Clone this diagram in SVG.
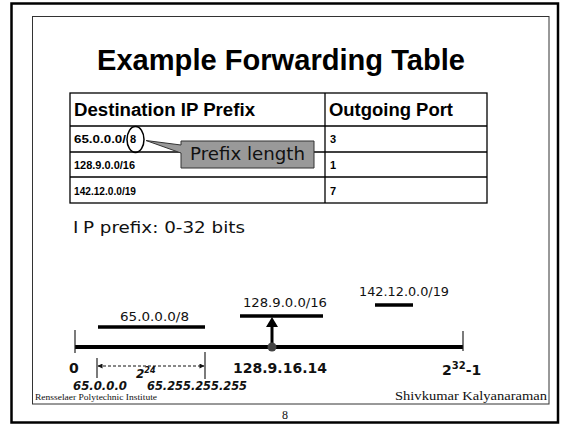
<svg xmlns="http://www.w3.org/2000/svg" width="570" height="424" viewBox="0 0 570 424">
<style>
.arial{font-family:"Liberation Sans",Arial,sans-serif}
.sans{font-family:"DejaVu Sans",Verdana,sans-serif}
.times{font-family:"Liberation Serif","Times New Roman",serif}
.cell{font-family:"Liberation Sans",Arial,sans-serif;font-weight:bold;font-size:11px;fill:#000}
.hdr{font-family:"Liberation Sans",Arial,sans-serif;font-weight:bold;font-size:18px;fill:#000}
.tl{stroke:#000;stroke-width:1.3;fill:none}
.bar{stroke:#000;stroke-width:3.5}
.tick{stroke:#222;stroke-width:1.2}
.lbl{font-family:"DejaVu Sans",Verdana,sans-serif;font-size:12px;fill:#111}
.big{font-family:"DejaVu Sans",Verdana,sans-serif;font-size:14px;font-weight:bold;fill:#111}
.ital{font-family:"DejaVu Sans",Verdana,sans-serif;font-size:12px;font-weight:bold;font-style:italic;fill:#111}
</style>
<defs>
<marker id="ah" viewBox="0 0 10 10" refX="9" refY="5" markerWidth="7" markerHeight="5" orient="auto-start-reverse" markerUnits="userSpaceOnUse">
<path d="M0,0 L10,5 L0,10 Z" fill="#111"/>
</marker>
</defs>
<rect width="570" height="424" fill="#fff"/>
<rect x="11.5" y="3.5" width="546.5" height="419" fill="none" stroke="#000" stroke-width="2.5"/>
<rect x="32.5" y="16.5" width="516.5" height="387.5" fill="none" stroke="#333" stroke-width="1"/>
<text class="arial" x="281" y="70" font-size="29" font-weight="bold" text-anchor="middle" textLength="368" lengthAdjust="spacingAndGlyphs">Example Forwarding Table</text>

<g id="table">
<rect class="tl" x="70" y="93" width="417" height="110"/>
<line class="tl" x1="325" y1="93" x2="325" y2="203"/>
<line class="tl" x1="70" y1="126" x2="487" y2="126"/>
<line class="tl" x1="70" y1="152" x2="487" y2="152"/>
<line class="tl" x1="70" y1="177" x2="487" y2="177"/>
<text class="hdr" x="74" y="116" textLength="181" lengthAdjust="spacingAndGlyphs">Destination IP Prefix</text>
<text class="hdr" x="329" y="116" textLength="124" lengthAdjust="spacingAndGlyphs">Outgoing Port</text>
<text class="cell" x="74" y="143" textLength="52" lengthAdjust="spacingAndGlyphs">65.0.0.0/</text>
<text class="cell" x="130" y="143">8</text>
<text class="cell" x="74" y="169" textLength="61" lengthAdjust="spacingAndGlyphs">128.9.0.0/16</text>
<text class="cell" x="74" y="195" textLength="62" lengthAdjust="spacingAndGlyphs">142.12.0.0/19</text>
<text class="cell" x="330" y="143">3</text>
<text class="cell" x="330" y="169">1</text>
<text class="cell" x="330" y="195">7</text>
</g>

<g id="callout">
<ellipse cx="135.5" cy="139.5" rx="8.5" ry="13" fill="none" stroke="#000" stroke-width="1.5"/>
<path d="M181,141 H314 V168 H181 V153 L146,140.5 L181,145 Z" fill="#999" stroke="#333" stroke-width="1"/>
<text class="sans" x="190" y="160" font-size="17" fill="#111" textLength="115" lengthAdjust="spacingAndGlyphs">Prefix length</text>
</g>

<text class="sans" x="73" y="233" font-size="16" fill="#111" textLength="172" lengthAdjust="spacingAndGlyphs">I<tspan dx="4">P prefix: 0-32 bits</tspan></text>

<g id="numberline">
<line x1="75" y1="347" x2="463" y2="347" stroke="#000" stroke-width="4"/>
<line class="tick" x1="75" y1="330" x2="75" y2="353"/>
<line class="tick" x1="463" y1="331" x2="463" y2="351"/>
<text class="big" x="69" y="373">0</text>
<text class="big" x="233" y="373" textLength="94" lengthAdjust="spacingAndGlyphs">128.9.16.14</text>
<text class="big" x="442" y="375">2<tspan font-size="10" dy="-6">32</tspan><tspan dy="6">-1</tspan></text>
</g>

<g id="prefix65">
<line class="bar" x1="98" y1="327" x2="205" y2="327"/>
<text class="lbl" x="120" y="321" textLength="69" lengthAdjust="spacingAndGlyphs">65.0.0.0/8</text>
</g>
<g id="prefix128">
<line class="bar" x1="240" y1="316" x2="323" y2="316"/>
<text class="lbl" x="243" y="307" textLength="84" lengthAdjust="spacingAndGlyphs">128.9.0.0/16</text>
</g>
<g id="prefix142">
<line class="bar" x1="375" y1="305" x2="413" y2="305"/>
<text class="lbl" x="359" y="296" textLength="90" lengthAdjust="spacingAndGlyphs">142.12.0.0/19</text>
</g>

<g id="connectors">
<line x1="272" y1="347" x2="272" y2="326" stroke="#000" stroke-width="3"/>
<path d="M266,327 L278,327 L272,317 Z" fill="#000"/>
<circle cx="272" cy="347" r="4.5" fill="#444"/>
<line class="tick" x1="97" y1="358" x2="97" y2="378"/>
<line class="tick" x1="205" y1="352" x2="205" y2="379"/>
<line x1="98" y1="366" x2="204" y2="366" stroke="#111" stroke-width="1" stroke-dasharray="3,2" marker-start="url(#ah)" marker-end="url(#ah)"/>
</g>
<text class="ital" x="136" y="378">2<tspan font-size="8" dy="-5">24</tspan></text>
<text class="ital" x="73" y="390" textLength="54" lengthAdjust="spacingAndGlyphs">65.0.0.0</text>
<text class="ital" x="147" y="390" textLength="100" lengthAdjust="spacingAndGlyphs">65.255.255.255</text>

<text class="times" x="35" y="400" font-size="8.5" fill="#111" textLength="122" lengthAdjust="spacingAndGlyphs">Rensselaer Polytechnic Institute</text>
<text class="times" x="395" y="400" font-size="12" fill="#111" textLength="152" lengthAdjust="spacingAndGlyphs">Shivkumar Kalyanaraman</text>
<text class="times" x="285" y="419" font-size="12" fill="#111" text-anchor="middle">8</text>
</svg>
